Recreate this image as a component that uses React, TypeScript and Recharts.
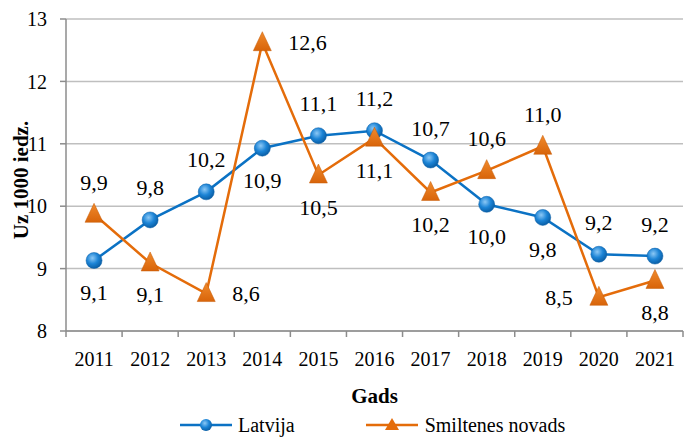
import React from 'react';
import { LineChart, Line, XAxis, YAxis, CartesianGrid, Legend, LabelList } from 'recharts';

const years = [2011, 2012, 2013, 2014, 2015, 2016, 2017, 2018, 2019, 2020, 2021];
const latvija = [9.13, 9.78, 10.23, 10.93, 11.13, 11.21, 10.74, 10.03, 9.82, 9.23, 9.2];
const smiltene = [9.87, 9.09, 8.6, 12.62, 10.5, 11.09, 10.22, 10.57, 10.96, 8.54, 8.81];
const yTicks = [8, 9, 10, 11, 12, 13];
const xTicks = [2010.5, 2011, 2011.5, 2012, 2012.5, 2013, 2013.5, 2014, 2014.5, 2015, 2015.5, 2016, 2016.5, 2017, 2017.5, 2018, 2018.5, 2019, 2019.5, 2020, 2020.5, 2021, 2021.5];

// where each data label sits relative to its point
const latvijaPos = ['bottom', 'top', 'top', 'bottom', 'top', 'top', 'top', 'bottom', 'bottom', 'top', 'top'];
const smiltenePos = ['top', 'bottom', 'right', 'right', 'bottom', 'bottom', 'bottom', 'top', 'top', 'left', 'bottom'];

const data = years.map((year, i) => ({ year, latvija: latvija[i], smiltene: smiltene[i] }));

const FONT = 'Liberation Serif, Times New Roman, serif';
const BLUE = '#0B72C4';
const ORANGE = '#E46C0A';

const fmt = (v: number) => v.toFixed(1).replace('.', ',');

const makeLabel = (positions: string[]) => (props: any) => {
  const { x, y, value, index } = props;
  const pos = positions[index];
  let tx = x;
  let ty = y;
  let anchor: 'middle' | 'start' | 'end' = 'middle';
  if (pos === 'top') ty = y - 32;
  if (pos === 'bottom') ty = y + 32;
  if (pos === 'right') { tx = x + 26; anchor = 'start'; }
  if (pos === 'left') { tx = x - 26; anchor = 'end'; }
  return (
    <text x={tx} y={ty} textAnchor={anchor} dominantBaseline="central" fontFamily={FONT} fontSize={22} fill="#000">
      {fmt(value)}
    </text>
  );
};

const CircleDot = (props: any) => {
  const { cx, cy, index } = props;
  if (cx == null || cy == null) return null;
  return <circle key={`c-${index}`} cx={cx} cy={cy} r={8} fill="url(#blueBall)" stroke="#0A5FA6" strokeWidth={0.5} />;
};

const TriDot = (props: any) => {
  const { cx, cy, index } = props;
  if (cx == null || cy == null) return null;
  const pts = `${cx},${cy - 11} ${cx - 9},${cy + 8} ${cx + 9},${cy + 8}`;
  return <polygon key={`t-${index}`} points={pts} fill="url(#orangeTri)" stroke="#C65A05" strokeWidth={0.5} />;
};

const XTick = (props: any) => {
  const { x, y, payload } = props;
  const v = payload.value;
  if (Number.isInteger(v)) {
    return (
      <text x={x} y={y + 28} textAnchor="middle" dominantBaseline="central" fontFamily={FONT} fontSize={20} fill="#000">
        {v}
      </text>
    );
  }
  return <line x1={x} y1={y} x2={x} y2={y + 6} stroke="#8C8C8C" strokeWidth={1.5} />;
};

const LegendBox = () => (
  <div style={{ display: 'flex', justifyContent: 'flex-start', fontFamily: FONT, fontSize: 20, lineHeight: '20px', color: '#000', paddingLeft: 180, paddingTop: 8 }}>
    <div style={{ display: 'flex', alignItems: 'center', marginRight: 71 }}>
      <svg width={52} height={16} style={{ marginRight: 6 }}>
        <defs>
          <radialGradient id="blueBallLegend" cx="40%" cy="35%" r="65%">
            <stop offset="0%" stopColor="#8CC8F5" />
            <stop offset="55%" stopColor="#1C84D6" />
            <stop offset="100%" stopColor="#0A5FA6" />
          </radialGradient>
        </defs>
        <line x1={0} y1={8} x2={52} y2={8} stroke={BLUE} strokeWidth={2.5} />
        <circle cx={26} cy={8} r={6} fill="url(#blueBallLegend)" />
      </svg>
      <span>Latvija</span>
    </div>
    <div style={{ display: 'flex', alignItems: 'center' }}>
      <svg width={52} height={16} style={{ marginRight: 7 }}>
        <line x1={0} y1={8} x2={52} y2={8} stroke={ORANGE} strokeWidth={2.5} />
        <polygon points="26,1 19,13 33,13" fill={ORANGE} />
      </svg>
      <span>Smiltenes novads</span>
    </div>
  </div>
);

export default function App() {
  return (
    <div style={{ width: 686, height: 437, background: '#fff' }}>
      <style>{'body{margin:0}'}</style>
      <LineChart width={686} height={437} data={data} margin={{ top: 19, right: 3, bottom: 0, left: 0 }}>
        <defs>
          <radialGradient id="blueBall" cx="40%" cy="35%" r="65%">
            <stop offset="0%" stopColor="#8CC8F5" />
            <stop offset="55%" stopColor="#1C84D6" />
            <stop offset="100%" stopColor="#0A5FA6" />
          </radialGradient>
          <linearGradient id="orangeTri" x1="0" y1="0" x2="0" y2="1">
            <stop offset="0%" stopColor="#F08A2C" />
            <stop offset="100%" stopColor="#D8640A" />
          </linearGradient>
        </defs>
        <CartesianGrid vertical={false} stroke="#BFBFBF" strokeWidth={1.5} />
        <XAxis
          dataKey="year"
          type="number"
          domain={[2010.5, 2021.5]}
          ticks={xTicks}
          interval={0}
          tickLine={false}
          tickSize={0}
          tickMargin={0}
          tick={<XTick />}
          axisLine={{ stroke: '#8C8C8C', strokeWidth: 1.5 }}
          height={76}
          label={{ value: 'Gads', position: 'insideBottom', offset: 4, style: { fontFamily: FONT, fontSize: 21, fontWeight: 'bold', fill: '#000' } }}
        />
        <YAxis
          domain={[8, 13]}
          ticks={yTicks}
          interval={0}
          width={66}
          tickSize={6}
          tickMargin={13}
          tickLine={{ stroke: '#8C8C8C', strokeWidth: 1.5 }}
          axisLine={{ stroke: '#8C8C8C', strokeWidth: 1.5 }}
          tick={{ fontFamily: FONT, fontSize: 20, fill: '#000' }}
          label={() => (
            <text
              x={21}
              y={180}
              transform="rotate(-90, 21, 180)"
              textAnchor="middle"
              dominantBaseline="central"
              fontFamily={FONT}
              fontSize={21}
              fontWeight="bold"
              fill="#000"
            >
              Uz 1000 iedz.
            </text>
          )}
        />
        <Legend verticalAlign="bottom" height={30} content={<LegendBox />} />
        <Line dataKey="latvija" name="Latvija" stroke={BLUE} strokeWidth={2.5} dot={<CircleDot />} activeDot={false} isAnimationActive={false}>
          <LabelList dataKey="latvija" content={makeLabel(latvijaPos)} />
        </Line>
        <Line dataKey="smiltene" name="Smiltenes novads" stroke={ORANGE} strokeWidth={2.5} dot={<TriDot />} activeDot={false} isAnimationActive={false}>
          <LabelList dataKey="smiltene" content={makeLabel(smiltenePos)} />
        </Line>
      </LineChart>
    </div>
  );
}
